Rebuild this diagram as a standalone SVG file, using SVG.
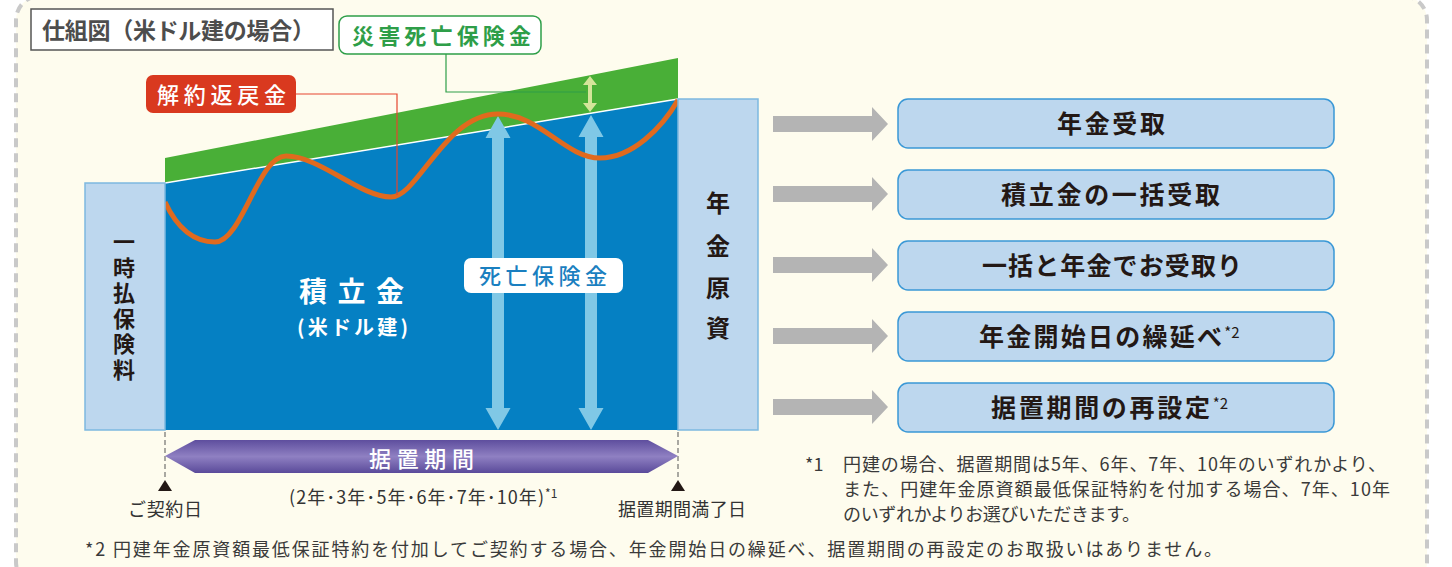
<svg xmlns="http://www.w3.org/2000/svg" width="1452" height="567" viewBox="0 0 1452 567">
<defs>
<style>
text{font-family:"Noto Sans CJK JP","Noto Sans",sans-serif;}
.bx{fill:#BDD7EE;stroke:#3A98D6;stroke-width:1.5;}
.side{fill:#BDD7EE;stroke:#7DB8E0;stroke-width:1.5;}
.ga{fill:#B4B4B4;}
.lb{fill:#80C8E6;}
.rt{font-size:25px;font-weight:bold;fill:#231815;}
.vt{font-size:24px;font-weight:bold;fill:#231815;text-anchor:middle;}
.fn{font-size:18px;fill:#3a3a3a;}
.sm{font-size:18px;fill:#333333;}
</style>
<linearGradient id="pg" x1="0" y1="0" x2="0" y2="1">
<stop offset="0" stop-color="#5E4E9E"/>
<stop offset="0.5" stop-color="#8F80C2"/>
<stop offset="1" stop-color="#5A4A9A"/>
</linearGradient>
</defs>
<rect x="0" y="0" width="1452" height="567" fill="#FFFFFF"/>
<rect x="16" y="-4" width="1411" height="590" rx="24" fill="#FEFCEE" stroke="#C9C9C9" stroke-width="4" stroke-dasharray="9 6"/>

<g id="title">
<rect x="31" y="9" width="302" height="41" fill="#FFFFFF" stroke="#555555" stroke-width="1.5"/>
<text x="42" y="39" font-size="23" font-weight="bold" fill="#4D4D4D" textLength="273" lengthAdjust="spacing">仕組図（米ドル建の場合）</text>
</g>

<g id="chart">
<polygon points="165,158 678,58 678,99 165,183" fill="#49AF37"/>
<polygon points="165,183 678,99 678,430 165,430" fill="#0580C3"/>
<line x1="165" y1="183" x2="678" y2="99" stroke="#FFFFFF" stroke-width="1.5"/>
</g>

<g id="connectors">
<polygon class="lb" points="498,116 510.5,138 504,138 504,408 510.5,408 498,430 485.5,408 492,408 492,138 485.5,138"/>
<polygon class="lb" points="591,115 603.5,137 597,137 597,408 603.5,408 591,430 578.5,408 585,408 585,137 578.5,137"/>
<path d="M165,202 C178,230 195,242 215,242 C242,242 258,156 286,156 C320,156 360,197 391,197 C418,197 445,114 498,114 C540,114 565,158 600,158 C632,158 662,128 678,100" fill="none" stroke="#E06A1E" stroke-width="5"/>
<polyline points="296,94 397,94 397,195" fill="none" stroke="#E5452F" stroke-width="1.2"/>
<polyline points="446,54 446,92 586,92" fill="none" stroke="#2E9E48" stroke-width="1.2"/>
<polygon points="590,76 597,85 592,85 592,103 597,103 590,112 583,103 588,103 588,85 583,85" fill="#D4E59A"/>
<polygon class="ga" points="773,116 872,116 872,107 888,124 872,141 872,132 773,132"/>
<polygon class="ga" points="773,186 872,186 872,177 888,194 872,211 872,202 773,202"/>
<polygon class="ga" points="773,257 872,257 872,248 888,265 872,282 872,273 773,273"/>
<polygon class="ga" points="773,328 872,328 872,319 888,336 872,353 872,344 773,344"/>
<polygon class="ga" points="773,399 872,399 872,390 888,407 872,424 872,415 773,415"/>
<line x1="165" y1="432" x2="165" y2="480" stroke="#555555" stroke-width="1" stroke-dasharray="5 3"/>
<line x1="678" y1="432" x2="678" y2="480" stroke="#555555" stroke-width="1" stroke-dasharray="5 3"/>
<polygon points="165,480 172,491 158,491" fill="#231815"/>
<polygon points="678,480 685,491 671,491" fill="#231815"/>
</g>

<g id="saigai">
<rect x="339" y="16" width="202" height="38" rx="8" fill="#FFFFFF" stroke="#2E9E48" stroke-width="1.5"/>
<text x="352" y="44" font-size="22" font-weight="bold" fill="#2E9E48" textLength="179" lengthAdjust="spacing">災害死亡保険金</text>
</g>

<g id="kaiyaku">
<rect x="146" y="75" width="150" height="38" rx="7" fill="#D9391F"/>
<text x="157" y="103" font-size="22" font-weight="500" fill="#FFFFFF" textLength="129" lengthAdjust="spacing">解約返戻金</text>
</g>

<g id="tsumitate">
<text x="299" y="302" font-size="28" font-weight="bold" fill="#FFFFFF" textLength="105" lengthAdjust="spacing">積立金</text>
<text x="297" y="335" font-size="20" font-weight="bold" fill="#FFFFFF" textLength="111" lengthAdjust="spacing">(米ドル建)</text>
</g>

<g id="shibou">
<rect x="464" y="258" width="159" height="35" rx="7" fill="#FFFFFF"/>
<text x="479" y="284" font-size="22" font-weight="500" fill="#1A7FC0" textLength="128" lengthAdjust="spacing">死亡保険金</text>
</g>

<g id="ichiji">
<rect class="side" x="85" y="183" width="80" height="247"/>
<text x="124" y="231" writing-mode="vertical-rl" font-size="22" font-weight="bold" fill="#231815" letter-spacing="3.5">一時払保険料</text>
</g>

<g id="genshi">
<rect class="side" x="678" y="99" width="80" height="331"/>
<text class="vt" x="718" y="212">年</text>
<text class="vt" x="718" y="255">金</text>
<text class="vt" x="718" y="297">原</text>
<text class="vt" x="718" y="337">資</text>
</g>

<g id="box1">
<rect class="bx" x="898" y="99" width="436" height="49" rx="10"/>
<text class="rt" x="1057" y="133" textLength="108" lengthAdjust="spacing">年金受取</text>
</g>
<g id="box2">
<rect class="bx" x="898" y="170" width="436" height="49" rx="10"/>
<text class="rt" x="1001" y="204" textLength="219" lengthAdjust="spacing">積立金の一括受取</text>
</g>
<g id="box3">
<rect class="bx" x="898" y="241" width="436" height="49" rx="10"/>
<text class="rt" x="982" y="275" textLength="260" lengthAdjust="spacing">一括と年金でお受取り</text>
</g>
<g id="box4">
<rect class="bx" x="898" y="312" width="436" height="49" rx="10"/>
<text class="rt" x="979" y="346"><tspan textLength="243" lengthAdjust="spacing">年金開始日の繰延べ</tspan><tspan font-size="15" font-weight="normal" dy="-8">*2</tspan></text>
</g>
<g id="box5">
<rect class="bx" x="898" y="383" width="436" height="49" rx="10"/>
<text class="rt" x="991" y="417"><tspan textLength="219" lengthAdjust="spacing">据置期間の再設定</tspan><tspan font-size="15" font-weight="normal" dy="-8">*2</tspan></text>
</g>

<g id="sueoki">
<polygon points="165,456 195,440 648,440 678,456 648,473 195,473" fill="url(#pg)"/>
<text x="369" y="467" font-size="22" font-weight="500" fill="#FFFFFF" textLength="105" lengthAdjust="spacing">据置期間</text>
<text class="sm" x="289" y="504"><tspan textLength="255" lengthAdjust="spacing">(2年･3年･5年･6年･7年･10年)</tspan><tspan font-size="12" dy="-6">*1</tspan></text>
<text class="sm" x="128" y="516" textLength="74" lengthAdjust="spacing">ご契約日</text>
<text class="sm" x="618" y="516" textLength="128" lengthAdjust="spacing">据置期間満了日</text>
</g>

<g id="notes">
<text class="fn" x="805" y="471">*1</text>
<text class="fn" x="843" y="471" textLength="543" lengthAdjust="spacing">円建の場合、据置期間は5年、6年、7年、10年のいずれかより、</text>
<text class="fn" x="843" y="496" textLength="547" lengthAdjust="spacing">また、円建年金原資額最低保証特約を付加する場合、7年、10年</text>
<text class="fn" x="843" y="521" textLength="297" lengthAdjust="spacing">のいずれかよりお選びいただきます。</text>
<text class="fn" x="85" y="556" textLength="1137" lengthAdjust="spacing">*2 円建年金原資額最低保証特約を付加してご契約する場合、年金開始日の繰延べ、据置期間の再設定のお取扱いはありません。</text>
</g>
</svg>
